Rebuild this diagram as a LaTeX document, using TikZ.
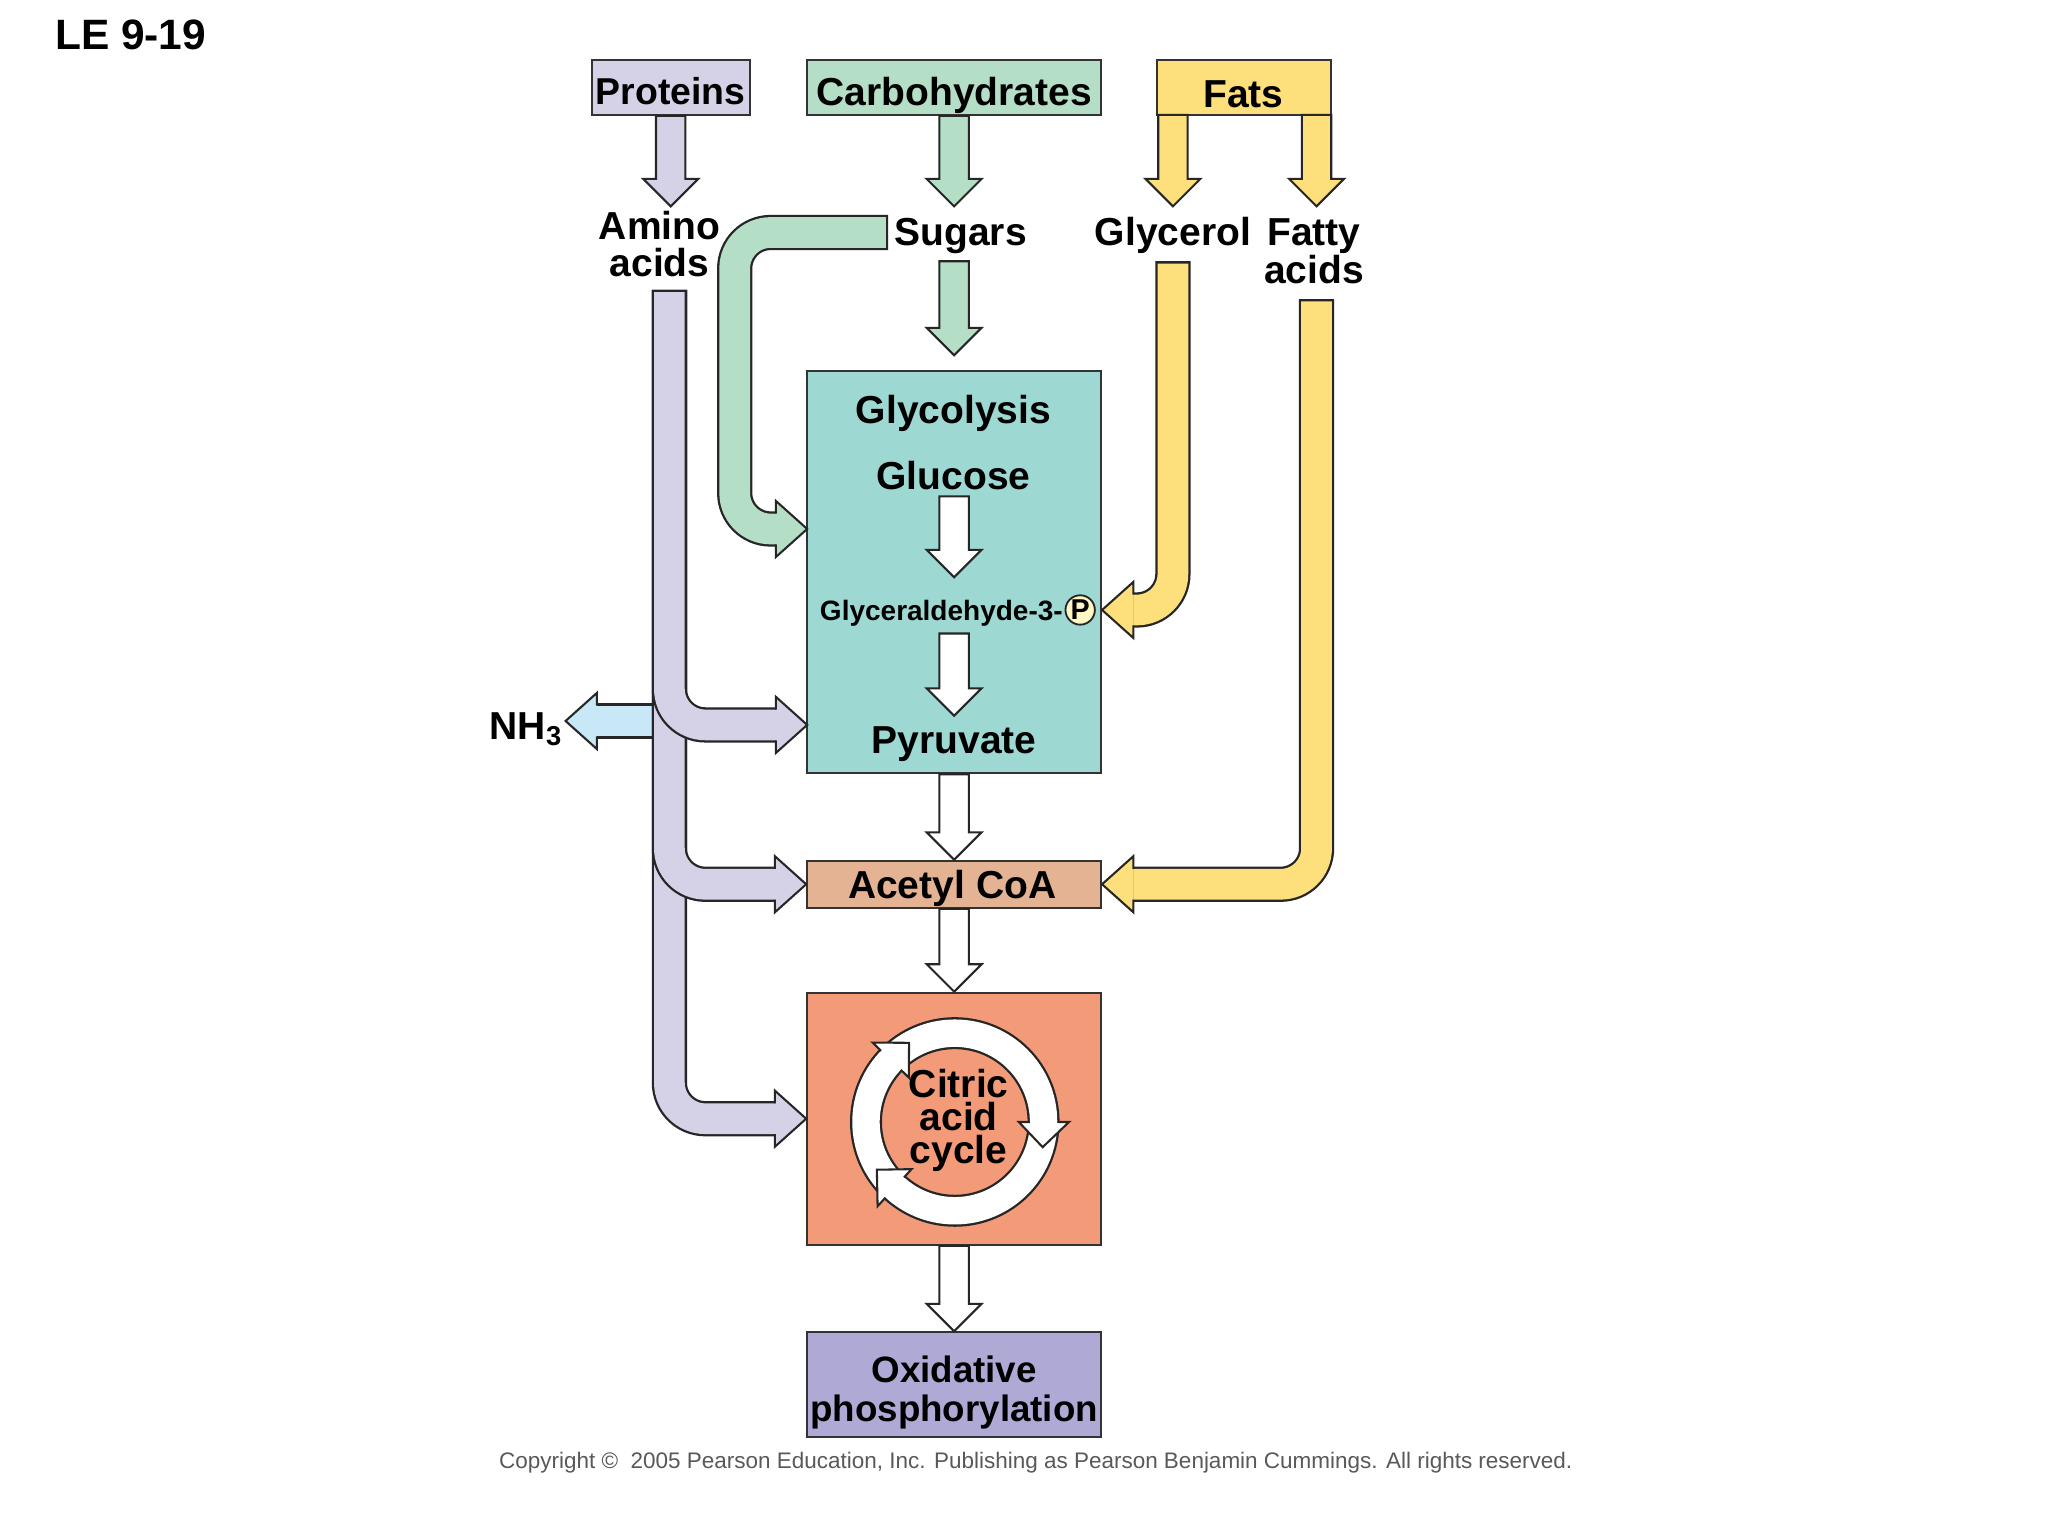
\documentclass[tikz,border=0pt]{standalone}
\usepackage{fontspec}
\setmainfont{Liberation Sans}
\usetikzlibrary{calc,positioning}

\definecolor{protcol}{HTML}{D5D2E8}
\definecolor{carbcol}{HTML}{B4DEC5}
\definecolor{fatcol}{HTML}{FDDF7C}
\definecolor{glycol}{HTML}{9ED8D2}
\definecolor{acecol}{HTML}{E4B394}
\definecolor{citcol}{HTML}{F39B79}
\definecolor{oxcol}{HTML}{AFAAD5}
\definecolor{nhcol}{HTML}{C8E7F7}
\definecolor{pcol}{HTML}{FFF6C4}

\tikzstyle{stage} = [draw=black!80, line width=0.9pt, inner sep=0pt]
\tikzstyle{lbl} = [font=\fontsize{17}{16.5}\selectfont\bfseries, inner sep=0pt, align=center, anchor=base]
\tikzstyle{outl} = [draw=black!85, line width=0.9pt, line join=miter]

% straight block arrow going down
\newcommand{\blockdown}[3]{%
  \filldraw[fill=#1, outl] let \p1=(#2), \p2=(#3) in
    (\x1-0.225cm,\y1) -- (\x1-0.225cm,\y2+0.42cm) -- (\x1-0.42cm,\y2+0.42cm)
    -- (\x1,\y2) -- (\x1+0.42cm,\y2+0.42cm) -- (\x1+0.225cm,\y2+0.42cm)
    -- (\x1+0.225cm,\y1) -- cycle;}
% bent band: outline pass, then colour pass
\newcommand{\band}[3]{%
  \draw[black!85, line width=0.54cm, rounded corners=0.55cm] #3;
  \draw[#1, line width=0.47cm, rounded corners=0.55cm, #2] #3;}
\newcommand{\headright}[2]{%
  \fill[#1] let \p1=(#2) in (\x1-0.48cm,\y1+0.43cm) -- (\p1) -- (\x1-0.48cm,\y1-0.43cm) -- cycle;
  \draw[outl] let \p1=(#2) in (\x1-0.48cm,\y1+0.235cm) -- (\x1-0.48cm,\y1+0.43cm)
    -- (\p1) -- (\x1-0.48cm,\y1-0.43cm) -- (\x1-0.48cm,\y1-0.235cm);}
\newcommand{\headleft}[2]{%
  \fill[#1] let \p1=(#2) in (\x1+0.48cm,\y1+0.43cm) -- (\p1) -- (\x1+0.48cm,\y1-0.43cm) -- cycle;
  \draw[outl] let \p1=(#2) in (\x1+0.48cm,\y1+0.235cm) -- (\x1+0.48cm,\y1+0.43cm)
    -- (\p1) -- (\x1+0.48cm,\y1-0.43cm) -- (\x1+0.48cm,\y1-0.235cm);}
% head on the cycle ring, base at angle #1
\newcommand{\cychead}[1]{%
  \fill[white] ([shift={(cyc)}]#1:0.98cm) -- ([shift={(cyc)}]{#1-16}:1.40cm) -- ([shift={(cyc)}]#1:1.75cm) -- cycle;
  \draw[outl] ([shift={(cyc)}]#1:1.15cm) -- ([shift={(cyc)}]#1:0.98cm) -- ([shift={(cyc)}]{#1-16}:1.40cm)
    -- ([shift={(cyc)}]#1:1.75cm) -- ([shift={(cyc)}]#1:1.57cm);}

\begin{document}
\begin{tikzpicture}[x=0.02cm, y=-0.02cm]
\fill[white] (0,0) rectangle (1568,1176);
\useasboundingbox (0,0) rectangle (1568,1176);

% boxes
\node[stage, fill=protcol, minimum width=2.42cm, minimum height=0.84cm] (prot) at (513.5,67) {};
\node[stage, fill=carbcol, minimum width=4.5cm, minimum height=0.84cm] (carb) at (730.5,67) {};
\node[stage, fill=fatcol, minimum width=2.66cm, minimum height=0.84cm] (fats) at (952.5,67) {};
\node[stage, fill=glycol, minimum width=4.5cm, minimum height=6.16cm] (glyc) at (730.5,438) {};
\node[stage, fill=acecol, minimum width=4.5cm, minimum height=0.72cm] (ace) at (730.5,677) {};
\node[stage, fill=citcol, minimum width=4.5cm, minimum height=3.86cm] (cit) at (730.5,856.5) {};
\node[stage, fill=oxcol, minimum width=4.5cm, minimum height=1.6cm] (ox) at (730.5,1060) {};
\node[circle, draw=black!85, line width=0.8pt, fill=pcol, minimum size=0.45cm, inner sep=0pt,
  font=\fontsize{12.5}{14}\selectfont\bfseries] (pcirc) at (827,467) {P};

\coordinate (nhtip) at (433,552);
\coordinate (pyrin) at (618,555);
\coordinate (sugin) at (618,405);
\coordinate (glin) at (glyc.east |- pcirc);
\coordinate (cyc) at (731,859);

% amino acid routes
\band{nhcol}{}{(512.5,552) -- ([xshift=0.48cm]nhtip)}
\headleft{nhcol}{nhtip}
\band{protcol}{shorten <=0.035cm}{(512.5,222) |- ([xshift=-0.48cm]cit.west)}
\headright{protcol}{cit.west}
\band{protcol}{shorten <=0.035cm}{(512.5,222) |- ([xshift=-0.48cm]ace.west)}
\headright{protcol}{ace.west}
\band{protcol}{shorten <=0.035cm}{(512.5,222) |- ([xshift=-0.48cm]pyrin)}
\headright{protcol}{pyrin}

% sugars
\band{carbcol}{shorten <=0.035cm}{(680,178) -| (562.5,405) -- ([xshift=-0.48cm]sugin)}
\headright{carbcol}{sugin}

% fats
\band{fatcol}{shorten <=0.035cm}{(898,200) |- ([xshift=0.48cm]glin)}
\headleft{fatcol}{glin}
\band{fatcol}{shorten <=0.035cm}{(1008,229) |- ([xshift=0.48cm]ace.east)}
\headleft{fatcol}{ace.east}

% straight arrows
\blockdown{protcol}{prot.south}{513.5,158}
\blockdown{carbcol}{carb.south}{730.5,158}
\blockdown{carbcol}{730.5,200}{730.5,272}
\blockdown{fatcol}{898,88}{898,158}
\blockdown{fatcol}{1008,88}{1008,158}
\blockdown{white}{730.5,380}{730.5,442}
\blockdown{white}{730.5,485}{730.5,548}
\blockdown{white}{glyc.south}{ace.north}
\blockdown{white}{ace.south}{cit.north}
\blockdown{white}{cit.south}{ox.north}

% cycle ring
\draw[black!85, line width=0.49cm] (cyc) circle (1.36cm);
\draw[white, line width=0.42cm] (cyc) circle (1.36cm);
\cychead{0}
\cychead{-132.5}
\cychead{136}

% labels
\node[lbl, font=\fontsize{18.5}{20}\selectfont\bfseries] (title) at (100,37.7) {LE 9-19};
\node[lbl, font=\fontsize{16.3}{16}\selectfont\bfseries] (protlbl) at (513.5,80) {Proteins};
\node[lbl] (carblbl) at (730.5,81) {Carbohydrates};
\node[lbl] (fatslbl) at (952,82) {Fats};
\node[lbl] (amino) at (505,212) {Amino\\acids};
\node[lbl] (sug) at (735.5,188) {Sugars};
\node[lbl] (glyr) at (898,188) {Glycerol};
\node[lbl] (fatty) at (1006,217) {Fatty\\acids};
\node[lbl] (glylbl) at (730,324) {Glycolysis};
\node[lbl] (gluc) at (730,375) {Glucose};
\node[lbl, font=\fontsize{12.2}{14}\selectfont\bfseries, anchor=base east] (g3p) at (814,474.7) {Glyceraldehyde-3-};
\node[lbl] (pyr) at (730.5,577) {Pyruvate};
\node[lbl, anchor=base east] (nh3) at (431,566) {NH\textsubscript{3}};
\node[lbl] (acelbl) at (729,688) {Acetyl CoA};
\node[lbl, font=\fontsize{17}{14.5}\selectfont\bfseries] (citlbl) at (734,891) {Citric\\acid\\cycle};
\node[lbl, font=\fontsize{16}{17}\selectfont\bfseries] (oxlbl) at (730.5,1088) {Oxidative\\phosphorylation};
\node[anchor=base, inner sep=0pt, text=black!65, font=\fontsize{9.8}{11}\selectfont] (copy) at (793,1124)
  {Copyright ©\ \ 2005 Pearson Education, Inc. Publishing as Pearson Benjamin Cummings. All rights reserved.};
\end{tikzpicture}
\end{document}
